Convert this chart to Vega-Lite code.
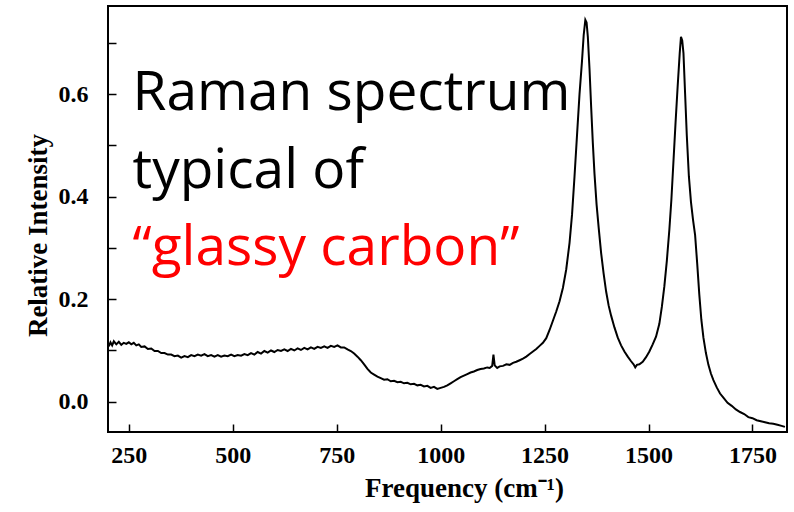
{
  "$schema": "https://vega.github.io/schema/vega-lite/v6.json",
  "width": 679,
  "height": 426,
  "autosize": {"type": "none"},
  "padding": {"left": 108, "top": 6, "right": 7, "bottom": 80},
  "background": "white",
  "config": {
    "view": {"stroke": "black", "strokeWidth": 2},
    "axis": {
      "domain": false,
      "grid": false,
      "tickColor": "black",
      "tickWidth": 1.5,
      "labelFont": "Liberation Serif",
      "labelFontWeight": "bold",
      "labelColor": "black",
      "labelFontSize": 24,
      "titleFont": "Liberation Serif",
      "titleFontWeight": "bold",
      "titleColor": "black",
      "titleFontSize": 27
    }
  },
  "datasets": {
    "spectrum": [
      {"f":202,"I":0.108},{"f":206,"I":0.116},{"f":210,"I":0.110},{"f":214,"I":0.118},{"f":220,"I":0.112},{"f":226,"I":0.117},{"f":232,"I":0.111},{"f":238,"I":0.115},{"f":244,"I":0.113},{"f":250,"I":0.116},{"f":256,"I":0.112},{"f":262,"I":0.115},{"f":268,"I":0.110},{"f":274,"I":0.112},{"f":280,"I":0.107},{"f":288,"I":0.108},{"f":296,"I":0.103},{"f":304,"I":0.104},{"f":312,"I":0.099},{"f":320,"I":0.099},{"f":328,"I":0.095},{"f":336,"I":0.095},{"f":344,"I":0.092},{"f":352,"I":0.092},{"f":360,"I":0.089},{"f":368,"I":0.090},{"f":376,"I":0.086},{"f":384,"I":0.089},{"f":392,"I":0.087},{"f":400,"I":0.091},{"f":408,"I":0.089},{"f":416,"I":0.092},{"f":424,"I":0.090},{"f":432,"I":0.093},{"f":440,"I":0.089},{"f":448,"I":0.091},{"f":456,"I":0.088},{"f":464,"I":0.091},{"f":472,"I":0.088},{"f":480,"I":0.090},{"f":488,"I":0.089},{"f":496,"I":0.092},{"f":504,"I":0.089},{"f":512,"I":0.091},{"f":520,"I":0.090},{"f":528,"I":0.093},{"f":536,"I":0.091},{"f":544,"I":0.095},{"f":552,"I":0.092},{"f":560,"I":0.097},{"f":568,"I":0.094},{"f":576,"I":0.099},{"f":584,"I":0.096},{"f":592,"I":0.100},{"f":600,"I":0.097},{"f":608,"I":0.101},{"f":616,"I":0.099},{"f":624,"I":0.102},{"f":632,"I":0.099},{"f":640,"I":0.103},{"f":648,"I":0.100},{"f":656,"I":0.104},{"f":664,"I":0.101},{"f":672,"I":0.105},{"f":680,"I":0.102},{"f":688,"I":0.106},{"f":696,"I":0.103},{"f":704,"I":0.107},{"f":712,"I":0.105},{"f":720,"I":0.108},{"f":728,"I":0.105},{"f":736,"I":0.109},{"f":744,"I":0.107},{"f":752,"I":0.110},{"f":760,"I":0.106},{"f":768,"I":0.106},{"f":776,"I":0.102},{"f":784,"I":0.099},{"f":792,"I":0.094},{"f":800,"I":0.088},{"f":808,"I":0.081},{"f":816,"I":0.073},{"f":824,"I":0.064},{"f":832,"I":0.057},{"f":840,"I":0.053},{"f":848,"I":0.049},{"f":856,"I":0.046},{"f":864,"I":0.043},{"f":872,"I":0.044},{"f":880,"I":0.040},{"f":888,"I":0.041},{"f":896,"I":0.038},{"f":904,"I":0.039},{"f":912,"I":0.036},{"f":920,"I":0.037},{"f":928,"I":0.034},{"f":936,"I":0.035},{"f":944,"I":0.032},{"f":952,"I":0.033},{"f":960,"I":0.030},{"f":968,"I":0.031},{"f":976,"I":0.027},{"f":984,"I":0.029},{"f":992,"I":0.025},{"f":1000,"I":0.027},{"f":1008,"I":0.029},{"f":1016,"I":0.032},{"f":1024,"I":0.036},{"f":1032,"I":0.040},{"f":1040,"I":0.044},{"f":1048,"I":0.048},{"f":1056,"I":0.051},{"f":1064,"I":0.054},{"f":1072,"I":0.057},{"f":1080,"I":0.059},{"f":1088,"I":0.062},{"f":1096,"I":0.064},{"f":1104,"I":0.065},{"f":1112,"I":0.067},{"f":1118,"I":0.066},{"f":1124,"I":0.070},{"f":1127,"I":0.092},{"f":1130,"I":0.071},{"f":1136,"I":0.066},{"f":1142,"I":0.069},{"f":1150,"I":0.070},{"f":1158,"I":0.073},{"f":1166,"I":0.072},{"f":1174,"I":0.076},{"f":1182,"I":0.078},{"f":1190,"I":0.081},{"f":1198,"I":0.084},{"f":1206,"I":0.088},{"f":1214,"I":0.093},{"f":1222,"I":0.098},{"f":1230,"I":0.103},{"f":1238,"I":0.109},{"f":1246,"I":0.115},{"f":1254,"I":0.124},{"f":1262,"I":0.140},{"f":1270,"I":0.158},{"f":1278,"I":0.176},{"f":1286,"I":0.196},{"f":1294,"I":0.222},{"f":1302,"I":0.258},{"f":1310,"I":0.310},{"f":1316,"I":0.365},{"f":1322,"I":0.440},{"f":1328,"I":0.520},{"f":1334,"I":0.600},{"f":1340,"I":0.665},{"f":1344,"I":0.715},{"f":1348,"I":0.745},{"f":1351,"I":0.740},{"f":1354,"I":0.712},{"f":1358,"I":0.650},{"f":1362,"I":0.575},{"f":1366,"I":0.505},{"f":1370,"I":0.445},{"f":1375,"I":0.385},{"f":1380,"I":0.340},{"f":1386,"I":0.290},{"f":1392,"I":0.250},{"f":1398,"I":0.215},{"f":1404,"I":0.188},{"f":1410,"I":0.168},{"f":1418,"I":0.145},{"f":1426,"I":0.125},{"f":1434,"I":0.110},{"f":1442,"I":0.098},{"f":1450,"I":0.088},{"f":1458,"I":0.079},{"f":1464,"I":0.073},{"f":1468,"I":0.067},{"f":1472,"I":0.072},{"f":1478,"I":0.073},{"f":1486,"I":0.078},{"f":1494,"I":0.087},{"f":1502,"I":0.098},{"f":1510,"I":0.112},{"f":1518,"I":0.127},{"f":1526,"I":0.152},{"f":1532,"I":0.185},{"f":1538,"I":0.225},{"f":1544,"I":0.275},{"f":1550,"I":0.335},{"f":1555,"I":0.395},{"f":1560,"I":0.470},{"f":1565,"I":0.545},{"f":1570,"I":0.615},{"f":1575,"I":0.680},{"f":1578,"I":0.712},{"f":1581,"I":0.705},{"f":1584,"I":0.680},{"f":1588,"I":0.600},{"f":1592,"I":0.520},{"f":1597,"I":0.440},{"f":1602,"I":0.390},{"f":1607,"I":0.355},{"f":1612,"I":0.325},{"f":1617,"I":0.270},{"f":1622,"I":0.210},{"f":1627,"I":0.160},{"f":1632,"I":0.125},{"f":1638,"I":0.095},{"f":1644,"I":0.072},{"f":1650,"I":0.055},{"f":1656,"I":0.042},{"f":1664,"I":0.028},{"f":1672,"I":0.016},{"f":1680,"I":0.008},{"f":1690,"I":-0.002},{"f":1700,"I":-0.008},{"f":1710,"I":-0.015},{"f":1720,"I":-0.020},{"f":1730,"I":-0.024},{"f":1740,"I":-0.030},{"f":1750,"I":-0.032},{"f":1760,"I":-0.036},{"f":1770,"I":-0.038},{"f":1780,"I":-0.040},{"f":1790,"I":-0.042},{"f":1800,"I":-0.043},{"f":1810,"I":-0.045},{"f":1820,"I":-0.047},{"f":1828,"I":-0.049}
    ],
    "notes": [
      {"label": "Raman spectrum", "f": 259, "I": 0.570, "kind": "black"},
      {"label": "typical of", "f": 259, "I": 0.417, "kind": "black"},
      {"label": "\u201cglassy carbon\u201d", "f": 259, "I": 0.267, "kind": "red"}
    ]
  },
  "layer": [
    {
      "data": {"name": "spectrum"},
      "mark": {"type": "line", "color": "black", "strokeWidth": 2, "clip": true},
      "encoding": {
        "x": {
          "field": "f", "type": "quantitative",
          "scale": {"domain": [200, 1833], "nice": false, "zero": false},
          "axis": {
            "orient": "bottom",
            "values": [250, 500, 750, 1000, 1250, 1500, 1750],
            "format": "d",
            "tickSize": -8,
            "labelPadding": 19,
            "title": "Frequency (cm\u207B\u00B9)",
            "titleX": 356,
            "titleY": 64,
            "titleBaseline": "alphabetic",
            "titleAnchor": null,
            "titleAlign": "center"
          }
        },
        "y": {
          "field": "I", "type": "quantitative",
          "scale": {"domain": [-0.059, 0.772], "nice": false, "zero": false},
          "axis": {
            "orient": "left",
            "values": [0, 0.1, 0.2, 0.3, 0.4, 0.5, 0.6, 0.7],
            "labelExpr": "round(datum.value*10) % 2 == 0 ? format(datum.value, '.1f') : ''",
            "tickSize": -8,
            "labelPadding": 28,
            "title": "Relative Intensity",
            "titleX": -70,
            "titleY": 229,
            "titleAngle": -90,
            "titleBaseline": "middle",
            "titleAlign": "center"
          }
        }
      }
    },
    {
      "data": {"name": "notes"},
      "transform": [{"filter": "datum.kind == 'black'"}],
      "mark": {"type": "text", "align": "left", "baseline": "alphabetic", "font": "Open Sans", "fontWeight": "normal", "fontSize": 55, "color": "black"},
      "encoding": {
        "x": {"field": "f", "type": "quantitative"},
        "y": {"field": "I", "type": "quantitative"},
        "text": {"field": "label"}
      }
    },
    {
      "data": {"name": "notes"},
      "transform": [{"filter": "datum.kind == 'red'"}],
      "mark": {"type": "text", "align": "left", "baseline": "alphabetic", "font": "Open Sans", "fontWeight": "normal", "fontSize": 55, "color": "#ff0000"},
      "encoding": {
        "x": {"field": "f", "type": "quantitative"},
        "y": {"field": "I", "type": "quantitative"},
        "text": {"field": "label"}
      }
    }
  ]
}
